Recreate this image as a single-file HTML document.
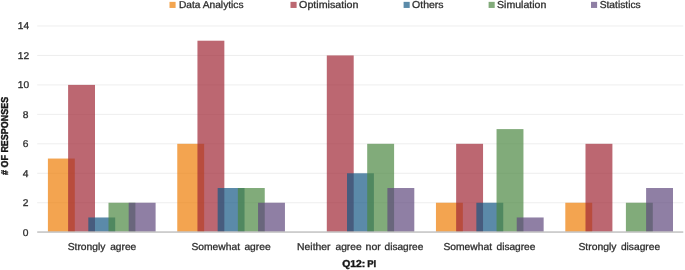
<!DOCTYPE html>
<html><head><meta charset="utf-8"><title>Q12: PI</title>
<style>html,body{margin:0;padding:0;background:#fff}body{width:685px;height:270px;overflow:hidden}</style></head>
<body>
<svg width="685" height="270" viewBox="0 0 685 270" style="display:block" text-rendering="geometricPrecision">
<rect width="685" height="270" fill="#fff"/>
<rect x="37.2" y="202.24" width="646.1" height="1" fill="#eeeeee"/>
<rect x="37.2" y="172.78" width="646.1" height="1" fill="#eeeeee"/>
<rect x="37.2" y="143.32" width="646.1" height="1" fill="#eeeeee"/>
<rect x="37.2" y="113.86" width="646.1" height="1" fill="#eeeeee"/>
<rect x="37.2" y="84.40" width="646.1" height="1" fill="#eeeeee"/>
<rect x="37.2" y="54.94" width="646.1" height="1" fill="#eeeeee"/>
<rect x="37.2" y="25.48" width="646.1" height="1" fill="#eeeeee"/>
<rect x="47.90" y="158.55" width="26.9" height="73.05" fill="#ee7e05" fill-opacity="0.7"/>
<rect x="68.10" y="84.90" width="26.9" height="146.70" fill="#9f2734" fill-opacity="0.7"/>
<rect x="88.30" y="217.47" width="26.9" height="14.13" fill="#155984" fill-opacity="0.7"/>
<rect x="108.50" y="202.74" width="26.9" height="28.86" fill="#4c8741" fill-opacity="0.7"/>
<rect x="128.70" y="202.74" width="26.9" height="28.86" fill="#5f487d" fill-opacity="0.7"/>
<rect x="177.25" y="143.82" width="26.9" height="87.78" fill="#ee7e05" fill-opacity="0.7"/>
<rect x="197.45" y="40.71" width="26.9" height="190.89" fill="#9f2734" fill-opacity="0.7"/>
<rect x="217.65" y="188.01" width="26.9" height="43.59" fill="#155984" fill-opacity="0.7"/>
<rect x="237.85" y="188.01" width="26.9" height="43.59" fill="#4c8741" fill-opacity="0.7"/>
<rect x="258.05" y="202.74" width="26.9" height="28.86" fill="#5f487d" fill-opacity="0.7"/>
<rect x="326.80" y="55.44" width="26.9" height="176.16" fill="#9f2734" fill-opacity="0.7"/>
<rect x="347.00" y="173.28" width="26.9" height="58.32" fill="#155984" fill-opacity="0.7"/>
<rect x="367.20" y="143.82" width="26.9" height="87.78" fill="#4c8741" fill-opacity="0.7"/>
<rect x="387.40" y="188.01" width="26.9" height="43.59" fill="#5f487d" fill-opacity="0.7"/>
<rect x="435.95" y="202.74" width="26.9" height="28.86" fill="#ee7e05" fill-opacity="0.7"/>
<rect x="456.15" y="143.82" width="26.9" height="87.78" fill="#9f2734" fill-opacity="0.7"/>
<rect x="476.35" y="202.74" width="26.9" height="28.86" fill="#155984" fill-opacity="0.7"/>
<rect x="496.55" y="129.09" width="26.9" height="102.51" fill="#4c8741" fill-opacity="0.7"/>
<rect x="516.75" y="217.47" width="26.9" height="14.13" fill="#5f487d" fill-opacity="0.7"/>
<rect x="565.30" y="202.74" width="26.9" height="28.86" fill="#ee7e05" fill-opacity="0.7"/>
<rect x="585.50" y="143.82" width="26.9" height="87.78" fill="#9f2734" fill-opacity="0.7"/>
<rect x="625.90" y="202.74" width="26.9" height="28.86" fill="#4c8741" fill-opacity="0.7"/>
<rect x="646.10" y="188.01" width="26.9" height="43.59" fill="#5f487d" fill-opacity="0.7"/>
<rect x="37.2" y="231.45" width="646.1" height="1.2" fill="#b3b3b3"/>
<text x="22.80" y="235.7" font-size="9.8" font-family="Liberation Sans, Arial, sans-serif" fill="#2e2e2e" stroke="#2e2e2e" stroke-width="0.3" textLength="5.70" lengthAdjust="spacingAndGlyphs">0</text>
<text x="22.80" y="206.24" font-size="9.8" font-family="Liberation Sans, Arial, sans-serif" fill="#2e2e2e" stroke="#2e2e2e" stroke-width="0.3" textLength="5.70" lengthAdjust="spacingAndGlyphs">2</text>
<text x="22.80" y="176.78" font-size="9.8" font-family="Liberation Sans, Arial, sans-serif" fill="#2e2e2e" stroke="#2e2e2e" stroke-width="0.3" textLength="5.70" lengthAdjust="spacingAndGlyphs">4</text>
<text x="22.80" y="147.32" font-size="9.8" font-family="Liberation Sans, Arial, sans-serif" fill="#2e2e2e" stroke="#2e2e2e" stroke-width="0.3" textLength="5.70" lengthAdjust="spacingAndGlyphs">6</text>
<text x="22.80" y="117.86" font-size="9.8" font-family="Liberation Sans, Arial, sans-serif" fill="#2e2e2e" stroke="#2e2e2e" stroke-width="0.3" textLength="5.70" lengthAdjust="spacingAndGlyphs">8</text>
<text x="17.80" y="88.4" font-size="9.8" font-family="Liberation Sans, Arial, sans-serif" fill="#2e2e2e" stroke="#2e2e2e" stroke-width="0.3" textLength="11.30" lengthAdjust="spacingAndGlyphs">10</text>
<text x="17.80" y="58.94" font-size="9.8" font-family="Liberation Sans, Arial, sans-serif" fill="#2e2e2e" stroke="#2e2e2e" stroke-width="0.3" textLength="11.30" lengthAdjust="spacingAndGlyphs">12</text>
<text x="17.80" y="29.48" font-size="9.8" font-family="Liberation Sans, Arial, sans-serif" fill="#2e2e2e" stroke="#2e2e2e" stroke-width="0.3" textLength="11.30" lengthAdjust="spacingAndGlyphs">14</text>
<g><text x="67.70" y="250" font-size="10" font-family="Liberation Sans, Arial, sans-serif" fill="#2e2e2e" stroke="#2e2e2e" stroke-width="0.3" textLength="37.70" lengthAdjust="spacingAndGlyphs">Strongly</text> <text x="110.20" y="250" font-size="10" font-family="Liberation Sans, Arial, sans-serif" fill="#2e2e2e" stroke="#2e2e2e" stroke-width="0.3" textLength="26.10" lengthAdjust="spacingAndGlyphs">agree</text></g>
<g><text x="191.40" y="250" font-size="10" font-family="Liberation Sans, Arial, sans-serif" fill="#2e2e2e" stroke="#2e2e2e" stroke-width="0.3" textLength="48.60" lengthAdjust="spacingAndGlyphs">Somewhat</text> <text x="244.40" y="250" font-size="10" font-family="Liberation Sans, Arial, sans-serif" fill="#2e2e2e" stroke="#2e2e2e" stroke-width="0.3" textLength="26.30" lengthAdjust="spacingAndGlyphs">agree</text></g>
<g><text x="297.10" y="250" font-size="10" font-family="Liberation Sans, Arial, sans-serif" fill="#2e2e2e" stroke="#2e2e2e" stroke-width="0.3" textLength="33.40" lengthAdjust="spacingAndGlyphs">Neither</text> <text x="335.50" y="250" font-size="10" font-family="Liberation Sans, Arial, sans-serif" fill="#2e2e2e" stroke="#2e2e2e" stroke-width="0.3" textLength="26.10" lengthAdjust="spacingAndGlyphs">agree</text> <text x="365.60" y="250" font-size="10" font-family="Liberation Sans, Arial, sans-serif" fill="#2e2e2e" stroke="#2e2e2e" stroke-width="0.3" textLength="15.20" lengthAdjust="spacingAndGlyphs">nor</text> <text x="384.60" y="250" font-size="10" font-family="Liberation Sans, Arial, sans-serif" fill="#2e2e2e" stroke="#2e2e2e" stroke-width="0.3" textLength="38.70" lengthAdjust="spacingAndGlyphs">disagree</text></g>
<g><text x="443.40" y="250" font-size="10" font-family="Liberation Sans, Arial, sans-serif" fill="#2e2e2e" stroke="#2e2e2e" stroke-width="0.3" textLength="48.70" lengthAdjust="spacingAndGlyphs">Somewhat</text> <text x="496.50" y="250" font-size="10" font-family="Liberation Sans, Arial, sans-serif" fill="#2e2e2e" stroke="#2e2e2e" stroke-width="0.3" textLength="38.90" lengthAdjust="spacingAndGlyphs">disagree</text></g>
<g><text x="578.40" y="250" font-size="10" font-family="Liberation Sans, Arial, sans-serif" fill="#2e2e2e" stroke="#2e2e2e" stroke-width="0.3" textLength="38.10" lengthAdjust="spacingAndGlyphs">Strongly</text> <text x="620.90" y="250" font-size="10" font-family="Liberation Sans, Arial, sans-serif" fill="#2e2e2e" stroke="#2e2e2e" stroke-width="0.3" textLength="39.20" lengthAdjust="spacingAndGlyphs">disagree</text></g>
<g><text x="342.20" y="267.4" font-size="10" font-weight="bold" font-family="Liberation Sans, Arial, sans-serif" fill="#151515" stroke="#151515" stroke-width="0.4" textLength="23.10" lengthAdjust="spacingAndGlyphs">Q12:</text> <text x="367.20" y="267.4" font-size="10" font-weight="bold" font-family="Liberation Sans, Arial, sans-serif" fill="#151515" stroke="#151515" stroke-width="0.4" textLength="8.90" lengthAdjust="spacingAndGlyphs">PI</text></g>
<g transform="translate(7.9,175.0) rotate(-90)"><text x="0.00" y="0" font-size="10" font-weight="bold" font-family="Liberation Sans, Arial, sans-serif" fill="#151515" stroke="#151515" stroke-width="0.4" textLength="78.10" lengthAdjust="spacingAndGlyphs"># OF RESPONSES</text></g>
<rect x="169.5" y="1.85" width="6.1" height="6.1" fill="#F3A550"/>
<text x="179.00" y="8.3" font-size="10" font-family="Liberation Sans, Arial, sans-serif" fill="#2e2e2e" stroke="#2e2e2e" stroke-width="0.3" textLength="64.50" lengthAdjust="spacingAndGlyphs">Data Analytics</text>
<rect x="290.5" y="1.85" width="6.1" height="6.1" fill="#BC6871"/>
<text x="299.10" y="8.3" font-size="10" font-family="Liberation Sans, Arial, sans-serif" fill="#2e2e2e" stroke="#2e2e2e" stroke-width="0.3" textLength="59.30" lengthAdjust="spacingAndGlyphs">Optimisation</text>
<rect x="403.6" y="1.85" width="6.1" height="6.1" fill="#5B8BA9"/>
<text x="412.05" y="8.3" font-size="10" font-family="Liberation Sans, Arial, sans-serif" fill="#2e2e2e" stroke="#2e2e2e" stroke-width="0.3" textLength="31.55" lengthAdjust="spacingAndGlyphs">Others</text>
<rect x="488.6" y="1.85" width="6.1" height="6.1" fill="#82AB7A"/>
<text x="497.05" y="8.3" font-size="10" font-family="Liberation Sans, Arial, sans-serif" fill="#2e2e2e" stroke="#2e2e2e" stroke-width="0.3" textLength="49.25" lengthAdjust="spacingAndGlyphs">Simulation</text>
<rect x="591.0" y="1.85" width="6.1" height="6.1" fill="#8F7FA4"/>
<text x="599.70" y="8.3" font-size="10" font-family="Liberation Sans, Arial, sans-serif" fill="#2e2e2e" stroke="#2e2e2e" stroke-width="0.3" textLength="41.00" lengthAdjust="spacingAndGlyphs">Statistics</text>
</svg>
</body></html>
